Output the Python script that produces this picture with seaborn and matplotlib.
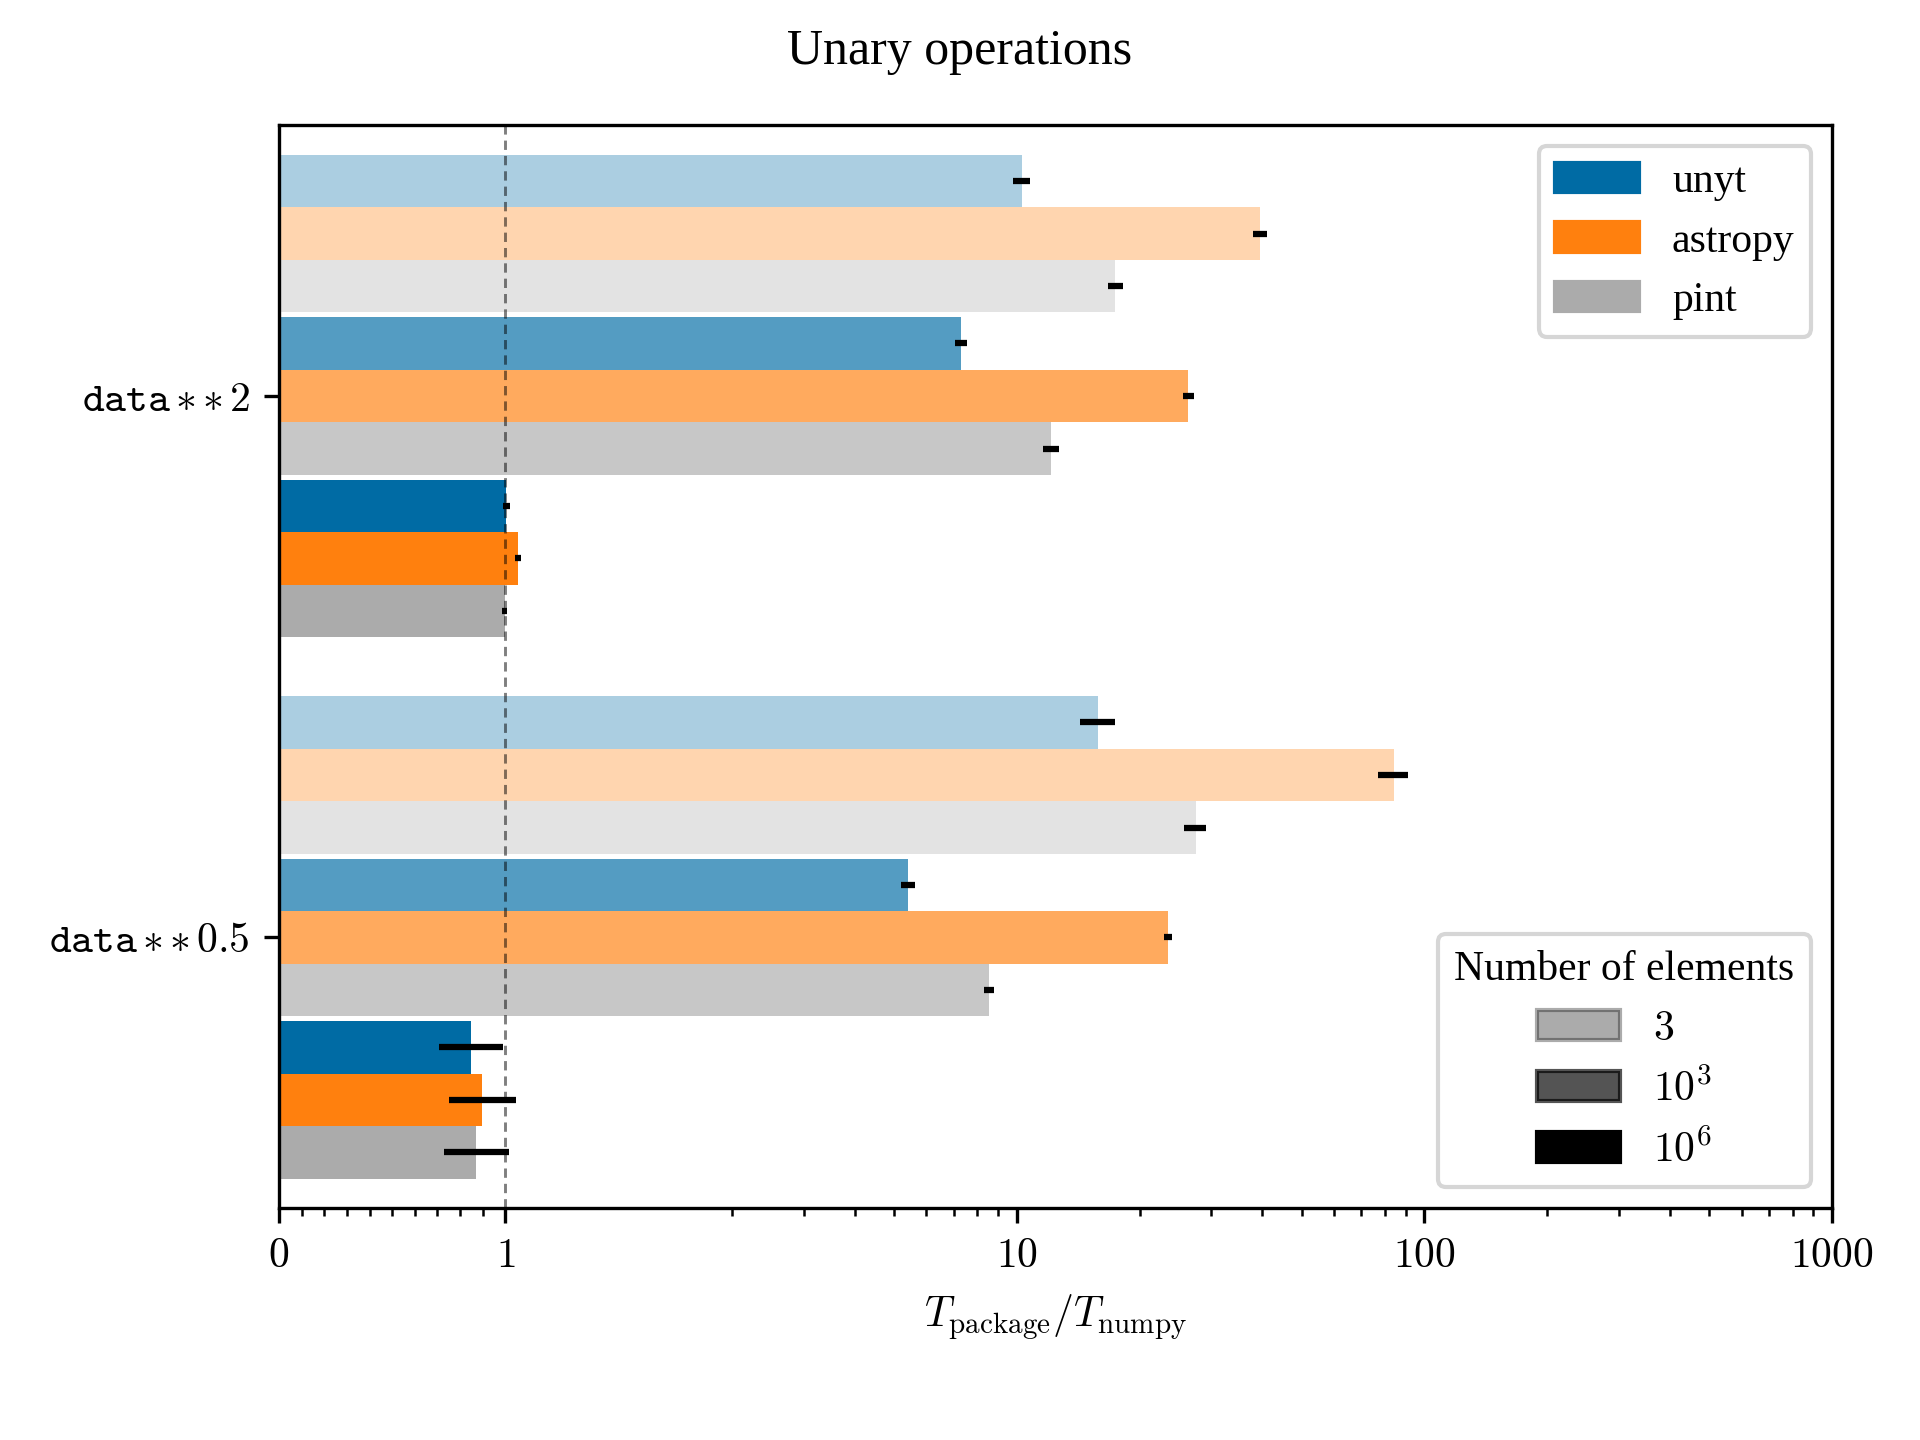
import numpy as np
import pandas as pd
import matplotlib
matplotlib.use("Agg")
import matplotlib.pyplot as plt
from matplotlib.patches import Patch
from matplotlib.ticker import FixedLocator, NullLocator
import matplotlib.colors as mcolors
import seaborn as sns

# ---------------- data ----------------
operations = [r"$\mathtt{data}\,{\ast}\,{\ast}\,2$", r"$\mathtt{data}\,{\ast}\,{\ast}\,0.5$"]
packages = ["unyt", "astropy", "pint"]
size_labels = ["$3$", "$10^3$", "$10^6$"]

# T_package / T_numpy, per number of elements [3, 1e3, 1e6]
unyt_square = [10.3, 7.30, 1.003]
astropy_square = [39.6, 26.35, 1.056]
pint_square = [17.46, 12.15, 0.998]
unyt_sqrt = [15.85, 5.41, 0.848]
astropy_sqrt = [84.0, 23.54, 0.897]
pint_sqrt = [27.45, 8.56, 0.871]

unyt_square_err = [0.5, 0.25, 0.015]
astropy_square_err = [1.6, 0.82, 0.012]
pint_square_err = [0.75, 0.56, 0.011]
unyt_sqrt_err = [1.55, 0.22, 0.141]
astropy_sqrt_err = [6.9, 0.53, 0.148]
pint_sqrt_err = [1.67, 0.24, 0.144]

x_ticks = [0, 1, 10, 100, 1000]
x_tick_labels = ["$0$", "$1$", "$10$", "$100$", "$1000$"]

# ---------------- style ----------------
plt.rcParams["font.family"] = ["serif"]
plt.rcParams["font.serif"] = ["Liberation Serif", "DejaVu Serif"]
plt.rcParams["mathtext.fontset"] = "cm"
plt.rcParams["font.size"] = 10

base_colors = {"unyt": "#006BA4", "astropy": "#FF800E", "pint": "#ABABAB"}
size_alphas = [0.33, 0.67, 1.0]
SIZE_PITCH = 0.3
BAR_H = 0.097


def blend(c, a):
    rgb = np.array(mcolors.to_rgb(c))
    return tuple(a * rgb + (1 - a) * 1.0)


values = [[unyt_square, astropy_square, pint_square],
          [unyt_sqrt, astropy_sqrt, pint_sqrt]]
errors = [[unyt_square_err, astropy_square_err, pint_square_err],
          [unyt_sqrt_err, astropy_sqrt_err, pint_sqrt_err]]

rows = []
palette = {}
for i in range(len(operations)):
    for j in range(len(size_labels)):
        for k, pkg in enumerate(packages):
            key = f"{pkg}|{j}"
            palette[key] = blend(base_colors[pkg], size_alphas[j])
            rows.append(dict(pos=i + (j - 1) * SIZE_PITCH + (k - 1) * BAR_H,
                             ratio=values[i][k][j], err=errors[i][k][j], key=key))
df = pd.DataFrame(rows)

fig = plt.figure(figsize=(6.4, 4.8), dpi=300)
ax = fig.add_axes([0.1453, 0.161, 0.9542 - 0.1453, 0.913 - 0.161])

sns.barplot(data=df, x="ratio", y="pos", hue="key", palette=palette, orient="h",
            native_scale=True, dodge=False, width=1.0, saturation=1,
            errorbar=None, legend=False, linewidth=0, edgecolor="none", ax=ax)

ax.errorbar(df["ratio"], df["pos"], xerr=df["err"], fmt="none", ecolor="k",
            elinewidth=1.5, capsize=0, zorder=3)
ax.axvline(1, color="k", alpha=0.5, lw=0.7, ls=(0, (3.2, 2.06)), zorder=4)

ax.set_xscale("symlog", linthresh=2, linscale=1)
ax.set_xlim(0, 1000)
ax.xaxis.set_major_locator(FixedLocator(x_ticks))
ax.set_xticklabels(x_tick_labels)
minor = list(np.arange(1, 10) / 10) + list(range(2, 10)) + list(range(20, 100, 10)) + list(range(200, 1000, 100))
ax.xaxis.set_minor_locator(FixedLocator(minor))

ax.set_ylim(1.5, -0.5)
ax.set_yticks(range(len(operations)))
ax.set_yticklabels(operations)
ax.yaxis.set_minor_locator(NullLocator())
ax.set_ylabel("")
ax.set_xlabel(r"$T_\mathrm{package}/T_\mathrm{numpy}$")

leg1 = ax.legend(handles=[Patch(color=base_colors[p], label=p) for p in packages],
                 loc="upper right")
ax.add_artist(leg1)
ax.legend(handles=[Patch(facecolor="k", edgecolor="k", alpha=a, label=l)
                   for a, l in zip(size_alphas, size_labels)],
          loc="lower right", title="Number of elements")

fig.suptitle("Unary operations", fontsize=12)
fig.savefig("out.png", dpi=300)
